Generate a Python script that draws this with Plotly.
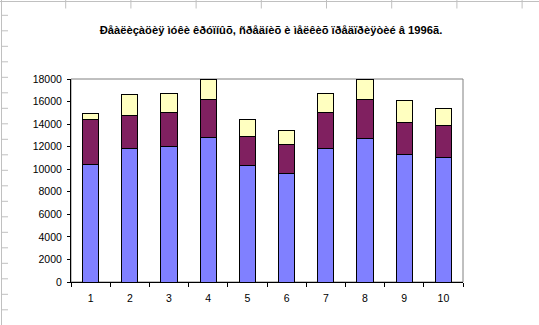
import plotly.graph_objects as go

categories = ["1", "2", "3", "4", "5", "6", "7", "8", "9", "10"]
large = [10450, 11800, 12000, 12850, 10300, 9600, 11800, 12750, 11350, 11000]
medium = [3950, 3000, 3000, 3350, 2600, 2550, 3250, 3450, 2800, 2900]
small = [500, 1800, 1700, 1800, 1550, 1250, 1700, 1800, 1900, 1500]
y_ticks = list(range(0, 18001, 2000))
y_tick_labels = [str(v) for v in y_ticks]
title_text = "Ðåàëèçàöèÿ ìóêè êðóïíûõ, ñðåäíèõ è ìåëêèõ ïðåäïðèÿòèé â 1996ã."

W, H = 539, 325
L, R, T, B = 71, 76, 79, 43
PW, PH = W - L - R, H - T - B

def px(x):
    return (x - L) / PW

def py(y):
    return (H - B - y) / PH

fig = go.Figure()
for vals, col in [(large, "#8080FF"), (medium, "#802060"), (small, "#FFFFC0")]:
    fig.add_trace(go.Bar(x=categories, y=vals, marker=dict(color=col, line=dict(color="black", width=1)),
                         showlegend=False, hoverinfo="skip"))

font = dict(family="Arial, Liberation Sans, sans-serif", size=10.5, color="black")

shapes = []
shapes.append(dict(type="rect", xref="paper", yref="paper", x0=0, x1=1, y0=0, y1=1,
                   line=dict(color="#808080", width=1), layer="below"))
g = "#C0C0C0"
shapes.append(dict(type="line", xref="paper", yref="paper", x0=px(0), x1=px(W), y0=py(1.5), y1=py(1.5),
                   line=dict(color=g, width=1)))
shapes.append(dict(type="line", xref="paper", yref="paper", x0=px(1.5), x1=px(1.5), y0=py(0), y1=py(H),
                   line=dict(color=g, width=1)))
for k in range(8):
    xx = 65.7 + 65.2 * k
    shapes.append(dict(type="line", xref="paper", yref="paper", x0=px(xx), x1=px(xx), y0=py(0), y1=py(8.5),
                       line=dict(color=g, width=1)))
for k in range(21):
    yy = 15.3 + 15.5 * k
    if yy > H:
        break
    shapes.append(dict(type="line", xref="paper", yref="paper", x0=px(1), x1=px(8), y0=py(yy), y1=py(yy),
                       line=dict(color=g, width=1)))

fig.update_layout(
    width=W, height=H,
    margin=dict(l=L, r=R, t=T, b=B),
    paper_bgcolor="white", plot_bgcolor="white",
    barmode="stack", bargap=0.59,
    showlegend=False,
    font=font,
    title=dict(text="<b>" + title_text + "</b>", x=271 / W, xanchor="center", xref="container",
               y=1 - 30.5 / H, yanchor="middle", yref="container",
               font=dict(family="Arial, Liberation Sans, sans-serif", size=11.2, color="black")),
    xaxis=dict(type="category", tickson="boundaries", ticks="outside", ticklen=4, tickcolor="black",
               showline=True, linecolor="black", linewidth=1, showgrid=False, zeroline=False,
               tickfont=font, ticklabelstandoff=6),
    xaxis2=dict(overlaying="x", range=[-0.5, 9.5], tickvals=[i - 0.5 for i in range(11)], ticks="inside",
                ticklen=2, tickcolor="black", showticklabels=False, showline=False, showgrid=False,
                zeroline=False, anchor="y"),
    yaxis=dict(range=[0, 18000], tickvals=y_ticks, ticktext=y_tick_labels, ticks="outside", ticklen=3,
               tickcolor="black", showline=True, linecolor="black", linewidth=1, showgrid=False,
               zeroline=False, tickfont=font, ticklabelstandoff=3),
    yaxis2=dict(overlaying="y", range=[0, 18000], tickvals=y_ticks, ticks="inside", ticklen=3,
                tickcolor="black", showticklabels=False, showline=False, showgrid=False, zeroline=False,
                anchor="x", side="left"),
    shapes=shapes,
)

fig.write_html("out.html")
